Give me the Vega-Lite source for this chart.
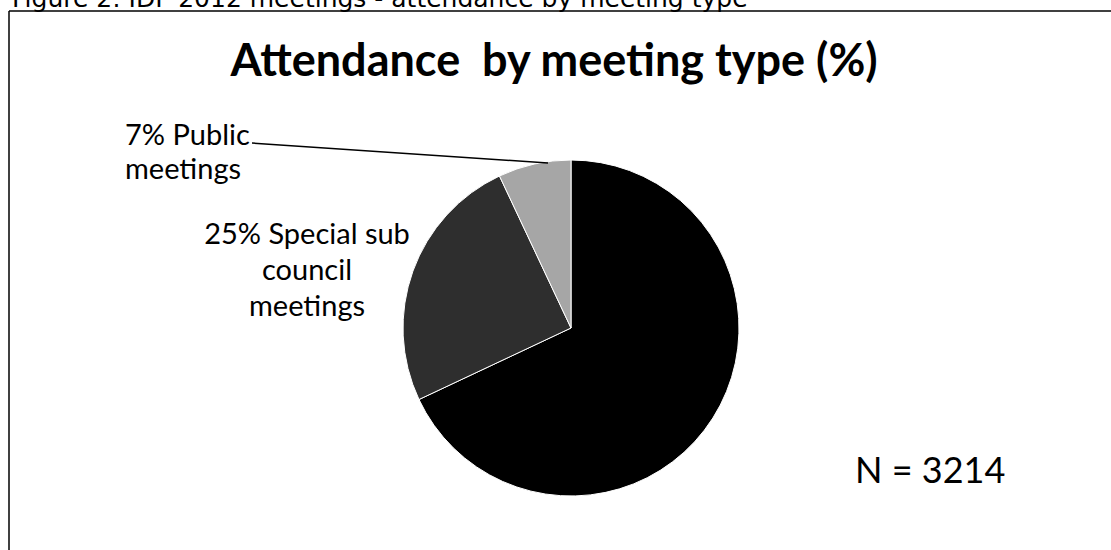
{
  "$schema": "https://vega.github.io/schema/vega-lite/v6.json",
  "width": 1102,
  "height": 539,
  "autosize": {"type": "none"},
  "padding": {"left": 9, "top": 11, "right": 0, "bottom": 0},
  "background": "white",
  "config": {"view": {"stroke": null}, "font": "Lato"},
  "title": {
    "text": "Attendance\u00a0 by meeting type (%)",
    "font": "Lato",
    "fontSize": 45,
    "fontWeight": "bold",
    "color": "black",
    "anchor": "middle",
    "offset": -98,
    "dx": -6
  },
  "data": {
    "values": [
      {"meeting": "Sub council meetings", "label": "", "pct": 68},
      {"meeting": "Special sub council meetings", "label": "Special sub\ncouncil\nmeetings", "pct": 25},
      {"meeting": "Public meetings", "label": "Public\nmeetings", "pct": 7}
    ]
  },
  "layer": [
    {
      "data": {"values": [{}]},
      "mark": {"type": "rule", "color": "black", "strokeWidth": 1.5},
      "encoding": {
        "x": {"value": 0},
        "y": {"value": 0},
        "y2": {"value": "height"}
      }
    },
    {
      "data": {"values": [{}]},
      "mark": {"type": "rule", "color": "black", "strokeWidth": 1.5},
      "encoding": {
        "x": {"value": 0},
        "x2": {"value": "width"},
        "y": {"value": 0}
      }
    },
    {
      "mark": {"type": "arc", "outerRadius": 168, "x": 562, "y": 317, "stroke": "white", "strokeWidth": 1},
      "encoding": {
        "theta": {"field": "pct", "type": "quantitative", "stack": true},
        "color": {
          "field": "meeting",
          "type": "nominal",
          "scale": {
            "domain": ["Sub council meetings", "Special sub council meetings", "Public meetings"],
            "range": ["#000000", "#2e2e2e", "#a6a6a6"]
          },
          "legend": null
        },
        "order": {"field": "pct", "sort": "descending"}
      }
    },
    {
      "data": {"values": [{}]},
      "mark": {"type": "rule", "color": "black", "strokeWidth": 1.5},
      "encoding": {
        "x": {"value": 243},
        "y": {"value": 132},
        "x2": {"value": 539},
        "y2": {"value": 152}
      }
    },
    {
      "transform": [
        {"filter": "datum.meeting === 'Special sub council meetings'"},
        {"calculate": "datum.pct + '% ' + datum.label", "as": "text"}
      ],
      "mark": {"type": "text", "x": 298, "y": 233, "align": "center", "baseline": "alphabetic", "lineBreak": "\n", "lineHeight": 36, "fontSize": 29, "font": "Lato", "color": "black"},
      "encoding": {"text": {"field": "text", "type": "nominal"}}
    },
    {
      "transform": [
        {"filter": "datum.meeting === 'Public meetings'"},
        {"calculate": "datum.pct + '% ' + datum.label", "as": "text"}
      ],
      "mark": {"type": "text", "x": 116, "y": 134, "align": "left", "baseline": "alphabetic", "lineBreak": "\n", "lineHeight": 34, "fontSize": 29, "font": "Lato", "color": "black"},
      "encoding": {"text": {"field": "text", "type": "nominal"}}
    },
    {
      "data": {"values": [{"n": 3214}]},
      "transform": [{"calculate": "'N = ' + datum.n", "as": "text"}],
      "mark": {"type": "text", "x": 846, "y": 472, "align": "left", "baseline": "alphabetic", "fontSize": 36, "font": "Lato", "color": "black"},
      "encoding": {"text": {"field": "text", "type": "nominal"}}
    },
    {
      "data": {"values": [{"caption": "Figure 2: IDP 2012 meetings - attendance by meeting type"}]},
      "mark": {"type": "text", "x": 3, "y": -4, "align": "left", "baseline": "alphabetic", "fontSize": 25, "font": "DejaVu Sans", "color": "black"},
      "encoding": {"text": {"field": "caption", "type": "nominal"}}
    }
  ]
}
